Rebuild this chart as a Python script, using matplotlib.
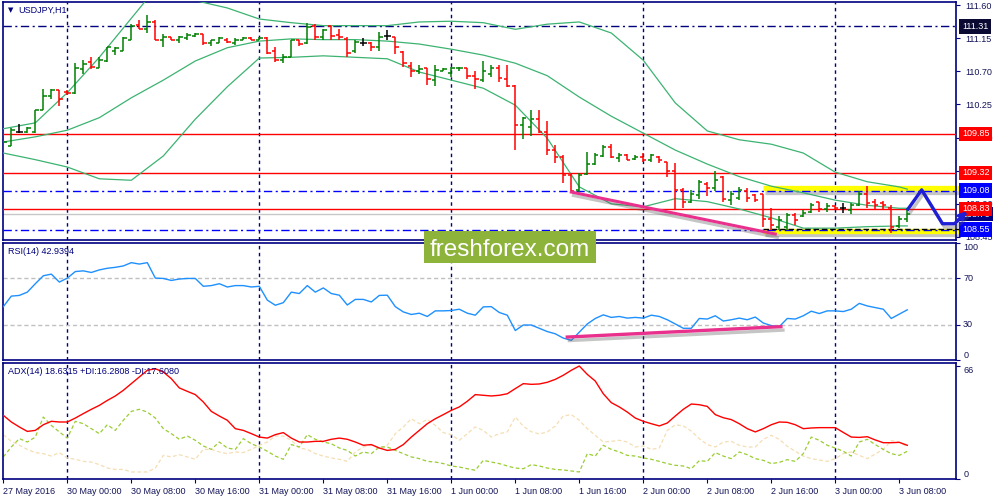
import matplotlib
matplotlib.use("Agg")
import matplotlib.pyplot as plt
import matplotlib.patheffects as pe
from matplotlib.patches import Rectangle
from matplotlib.transforms import blended_transform_factory
from matplotlib import font_manager

# ---------------------------------------------------------------------------
# USDJPY H1 bars, 27 May 2016 16:00 .. 3 Jun 2016 09:00 (one entry per hour)
# ---------------------------------------------------------------------------
opens = [109.68, 109.69, 109.87, 109.87, 109.87, 110.17, 110.36, 110.44, 110.42, 110.40,
         110.73, 110.82, 110.75, 110.84, 110.98, 110.98, 111.13, 111.33, 111.27, 111.37,
         111.13, 111.16, 111.13, 111.15, 111.18, 111.20, 111.08, 111.09, 111.13, 111.09,
         111.13, 111.15, 111.13, 111.15, 110.97, 110.85, 110.90, 111.12, 111.08, 111.32,
         111.17, 111.31, 111.19, 111.14, 110.97, 111.09, 111.09, 111.03, 111.18, 111.16,
         110.96, 110.77, 110.70, 110.74, 110.58, 110.71, 110.68, 110.74, 110.74, 110.64,
         110.58, 110.66, 110.74, 110.60, 110.50, 109.97, 109.95, 110.05, 109.88, 109.63,
         109.54, 109.29, 109.09, 109.31, 109.44, 109.55, 109.67, 109.52, 109.56, 109.51,
         109.54, 109.50, 109.54, 109.47, 109.34, 109.09, 108.93, 109.02, 109.17, 109.11,
         109.26, 108.95, 108.98, 109.08, 109.02, 109.03, 108.70, 108.58, 108.59, 108.75,
         108.73, 108.79, 108.92, 108.83, 108.87, 108.85, 108.82, 108.89, 109.03, 108.93,
         108.91, 108.85, 108.60, 108.69]
highs = [109.77, 109.93, 109.98, 109.95, 110.18, 110.46, 110.46, 110.45, 110.44, 110.81,
         110.86, 110.89, 110.89, 111.03, 111.03, 111.16, 111.34, 111.39, 111.46, 111.39,
         111.21, 111.17, 111.18, 111.22, 111.22, 111.21, 111.13, 111.16, 111.15, 111.15,
         111.16, 111.16, 111.16, 111.16, 111.03, 110.94, 111.13, 111.13, 111.35, 111.34,
         111.27, 111.32, 111.27, 111.16, 111.13, 111.15, 111.10, 111.23, 111.26, 111.17,
         110.97, 110.82, 110.79, 110.74, 110.79, 110.75, 110.76, 110.76, 110.75, 110.71,
         110.84, 110.78, 110.79, 110.79, 110.51, 110.08, 110.17, 110.17, 110.02, 109.70,
         109.56, 109.32, 109.32, 109.61, 109.59, 109.70, 109.71, 109.59, 109.58, 109.57,
         109.59, 109.58, 109.55, 109.47, 109.45, 109.12, 109.09, 109.23, 109.19, 109.34,
         109.28, 109.07, 109.13, 109.11, 109.03, 109.04, 108.85, 108.73, 108.78, 108.77,
         108.82, 108.91, 108.93, 108.91, 108.87, 108.91, 108.91, 109.07, 109.14, 108.96,
         108.94, 108.89, 108.73, 108.84]
lows = [109.61, 109.68, 109.86, 109.86, 109.86, 110.17, 110.32, 110.23, 110.38, 110.39,
        110.66, 110.73, 110.74, 110.83, 110.92, 110.97, 111.13, 111.27, 111.22, 111.13,
        111.03, 111.12, 111.08, 111.13, 111.17, 111.06, 111.04, 111.08, 111.09, 111.06,
        111.12, 111.12, 111.13, 110.94, 110.82, 110.81, 110.89, 111.04, 111.07, 111.13,
        111.13, 111.12, 111.13, 110.89, 110.95, 111.04, 110.97, 110.98, 111.13, 110.94,
        110.76, 110.62, 110.66, 110.51, 110.50, 110.70, 110.62, 110.70, 110.60, 110.46,
        110.55, 110.62, 110.55, 110.49, 109.63, 109.78, 109.82, 109.86, 109.56, 109.45,
        109.18, 109.05, 109.05, 109.29, 109.43, 109.54, 109.52, 109.47, 109.49, 109.50,
        109.47, 109.47, 109.46, 109.26, 108.83, 108.84, 108.91, 108.96, 109.01, 109.08,
        108.93, 108.89, 108.95, 108.93, 108.93, 108.59, 108.55, 108.55, 108.55, 108.61,
        108.72, 108.78, 108.79, 108.79, 108.83, 108.77, 108.76, 108.87, 108.85, 108.81,
        108.81, 108.50, 108.57, 108.66]
closes = [109.74, 109.90, 109.87, 109.93, 110.17, 110.36, 110.45, 110.32, 110.40, 110.74,
          110.80, 110.76, 110.86, 111.03, 111.02, 111.15, 111.32, 111.28, 111.37, 111.13,
          111.17, 111.13, 111.16, 111.19, 111.20, 111.09, 111.12, 111.15, 111.10, 111.13,
          111.15, 111.13, 111.15, 110.95, 110.85, 110.89, 111.13, 111.07, 111.30, 111.16,
          111.26, 111.18, 111.16, 110.95, 111.10, 111.09, 111.03, 111.17, 111.18, 111.03,
          110.81, 110.70, 110.73, 110.60, 110.72, 110.73, 110.74, 110.75, 110.64, 110.59,
          110.71, 110.74, 110.61, 110.50, 109.97, 110.06, 110.05, 109.88, 109.63, 109.54,
          109.29, 109.07, 109.29, 109.44, 109.56, 109.67, 109.54, 109.56, 109.50, 109.54,
          109.50, 109.56, 109.49, 109.34, 109.09, 108.92, 109.04, 109.20, 109.11, 109.22,
          108.96, 109.03, 109.09, 108.98, 108.95, 108.70, 108.61, 108.68, 108.75, 108.68,
          108.78, 108.89, 108.83, 108.87, 108.85, 108.85, 108.89, 109.03, 108.91, 108.89,
          108.89, 108.58, 108.69, 108.76]

band_x = list(range(0, 113, 4)) + [113]
bb_upper = [109.92, 110.00, 110.41, 110.89, 111.42, 111.95, 111.66, 111.56, 111.41, 111.36,
            111.32, 111.32, 111.32, 111.37, 111.38, 111.36, 111.27, 111.34, 111.37, 111.22,
            110.85, 110.27, 109.89, 109.77, 109.71, 109.59, 109.33, 109.20, 109.13, 109.10]
bb_middle = [109.74, 109.81, 109.90, 110.07, 110.34, 110.58, 110.84, 111.02, 111.11, 111.14,
             111.13, 111.13, 111.11, 111.07, 111.00, 110.92, 110.81, 110.64, 110.35, 110.09,
             109.86, 109.63, 109.44, 109.27, 109.14, 109.05, 108.95, 108.88, 108.84, 108.84]
bb_lower = [109.59, 109.50, 109.40, 109.24, 109.22, 109.55, 110.05, 110.49, 110.88, 110.89,
            110.91, 110.89, 110.87, 110.69, 110.58, 110.47, 110.24, 109.79, 109.13, 108.90,
            108.86, 108.97, 108.93, 108.83, 108.71, 108.57, 108.57, 108.59, 108.60, 108.60]

rsi = [45.6, 54.6, 55.2, 58.0, 65.2, 72.0, 73.4, 66.6, 70.0, 75.6,
       76.2, 74.8, 77.0, 78.4, 79.2, 80.4, 83.2, 82.0, 83.2, 70.0,
       69.7, 68.0, 69.2, 69.7, 69.7, 63.0, 63.6, 65.2, 62.4, 63.6,
       63.6, 62.4, 63.0, 51.2, 46.8, 49.0, 58.0, 56.8, 63.6, 58.0,
       61.6, 56.8, 55.4, 47.0, 51.8, 51.8, 49.6, 55.2, 55.4, 45.6,
       41.1, 38.9, 40.0, 37.2, 42.0, 42.0, 42.3, 43.4, 40.0, 38.3,
       45.4, 45.6, 40.6, 38.3, 25.2, 29.9, 29.9, 27.1, 24.3, 22.4,
       18.7, 16.8, 23.8, 30.8, 35.5, 38.6, 36.4, 37.2, 35.8, 36.4,
       35.8, 38.3, 37.2, 34.4, 30.8, 27.1, 27.1, 35.5, 35.0, 37.8,
       33.3, 34.4, 35.8, 34.4, 36.7, 31.6, 29.4, 28.5, 35.5, 35.0,
       37.8, 41.7, 39.7, 42.0, 42.0, 41.4, 43.4, 48.4, 46.2, 44.8,
       43.4, 35.5, 39.2, 42.9]

adx = [37.2, 33.3, 30.4, 27.8, 28.4, 31.7, 33.7, 33.3, 33.3, 35.6,
       38.2, 40.7, 43.0, 45.9, 48.5, 51.8, 55.7, 59.6, 63.5, 64.4,
       62.5, 58.6, 53.2, 51.2, 49.3, 45.0, 39.5, 36.8, 34.3, 29.4,
       28.4, 26.5, 24.5, 23.9, 25.9, 27.1, 23.9, 21.6, 21.6, 22.0,
       22.0, 23.2, 23.9, 23.2, 21.6, 19.7, 20.1, 18.1, 16.7, 17.3,
       20.1, 24.5, 28.4, 32.3, 35.2, 37.6, 40.1, 42.1, 45.4, 49.3,
       48.9, 48.5, 48.9, 49.8, 52.8, 55.7, 55.3, 55.5, 56.5, 58.2,
       60.6, 63.5, 66.0, 61.1, 57.2, 49.8, 44.6, 42.1, 39.1, 35.6,
       33.7, 32.3, 31.0, 32.7, 36.8, 40.7, 43.8, 43.4, 42.4, 37.6,
       35.8, 34.7, 32.3, 29.4, 27.5, 29.4, 31.7, 33.3, 33.1, 31.7,
       29.4, 29.8, 30.0, 30.0, 30.0, 27.2, 24.5, 24.3, 24.7, 22.8,
       21.2, 21.2, 21.4, 19.7]
plus_di = [12.9, 18.7, 23.6, 21.6, 24.5, 36.2, 31.3, 27.5, 23.9, 33.7,
           32.3, 29.4, 26.5, 31.7, 28.4, 34.3, 39.5, 40.7, 39.1, 35.6,
           29.4, 26.5, 23.2, 25.1, 22.6, 19.3, 17.3, 21.6, 18.1, 17.3,
           23.6, 20.6, 18.7, 16.2, 13.4, 11.5, 20.1, 18.7, 25.9, 23.2,
           21.6, 20.6, 18.1, 16.7, 13.4, 15.8, 14.8, 18.7, 18.7, 16.7,
           14.8, 12.9, 11.9, 10.3, 9.9, 9.0, 7.6, 7.0, 6.0, 5.1,
           10.9, 9.9, 9.0, 7.6, 6.4, 6.0, 8.4, 7.6, 6.4, 5.6,
           5.3, 4.7, 4.1, 14.8, 13.4, 19.7, 17.3, 15.8, 13.8, 13.4,
           12.3, 11.5, 10.3, 9.0, 8.0, 7.6, 6.0, 10.7, 10.3, 15.4,
           13.4, 11.9, 15.8, 14.2, 11.9, 10.9, 9.0, 9.7, 11.3, 10.3,
           14.8, 24.5, 22.6, 19.7, 18.1, 16.2, 13.4, 21.6, 23.2, 20.1,
           17.3, 14.8, 13.8, 16.2]
minus_di = [25.9, 22.0, 19.7, 17.3, 15.4, 14.8, 13.4, 15.4, 12.3, 11.5,
            10.3, 9.9, 8.4, 6.4, 5.6, 5.6, 4.1, 4.1, 4.1, 6.4,
            13.8, 12.9, 14.2, 12.9, 11.5, 17.3, 17.3, 15.8, 14.8, 15.8,
            15.4, 17.3, 19.7, 21.6, 25.1, 25.1, 22.6, 18.1, 17.3, 14.8,
            13.4, 12.3, 11.5, 10.3, 15.8, 18.7, 19.7, 18.1, 19.7, 26.5,
            30.4, 35.2, 32.3, 34.8, 31.3, 27.1, 25.9, 22.6, 26.5, 30.4,
            28.4, 24.5, 26.5, 27.5, 36.2, 30.8, 27.6, 26.3, 27.5, 31.0,
            36.8, 37.6, 34.3, 29.4, 25.5, 21.6, 22.0, 22.6, 21.6, 18.7,
            19.3, 17.3, 18.1, 28.4, 31.7, 31.0, 28.0, 23.6, 20.1, 18.7,
            21.6, 22.0, 19.7, 18.7, 18.7, 23.2, 25.5, 23.2, 19.1, 16.2,
            13.4, 11.9, 11.1, 10.3, 11.9, 14.8, 15.8, 13.8, 11.9, 14.6,
            17.3, 22.4, 21.6, 18.7]

time_labels = ["27 May 2016", "30 May 00:00", "30 May 08:00", "30 May 16:00",
               "31 May 00:00", "31 May 08:00", "31 May 16:00", "1 Jun 00:00",
               "1 Jun 08:00", "1 Jun 16:00", "2 Jun 00:00", "2 Jun 08:00",
               "2 Jun 16:00", "3 Jun 00:00", "3 Jun 08:00"]
day_starts = [8, 32, 56, 80, 104]
price_ticks = [108.45, 108.90, 109.35, 109.80, 110.25, 110.70, 111.15, 111.60]
# 109.35 sits fully under the 109.32 marker in the chart, so its text is left empty
price_tick_labels = ["108.45", "108.90", "", "109.80", "110.25", "110.70", "111.15", "111.60"]

# drawn objects (levels, trendlines, forecast path)
red_levels = [109.85, 109.32, 108.83]
blue_levels = [109.08, 108.55]
black_level = 111.31
last_price = 108.76
price_trend = ([71.0, 96.5], [109.06, 108.49])
rsi_trend = ([70.5, 97.2], [19.6, 28.5])
forecast_x = [113.1, 114.8, 117.4, 118.9, 120.2]
forecast_y = [108.83, 109.09, 108.63, 108.63, 108.76]
zone_start = 95.0

plt.rcParams["font.family"] = ["Liberation Sans", "DejaVu Sans"]

NAVY = "#00007F"
TXT = "#14145A"
PINK = "#E8308C"
BB = "#3CB371"
W, H = 1000, 500
XMIN, XMAX = -0.04, 119.09
FS = 6.5


def pick_family(names):
    for n in names:
        try:
            font_manager.findfont(n, fallback_to_default=False)
            return n
        except ValueError:
            pass
    return "DejaVu Sans"


fig = plt.figure(figsize=(W / 100, H / 100), dpi=100)
fig.patch.set_facecolor("white")


def add_panel(top, bottom):
    a = fig.add_axes([3 / W, 1 - bottom / H, 953 / W, (bottom - top) / H])
    a.set_xlim(XMIN, XMAX)
    for s in a.spines.values():
        s.set_color(NAVY)
        s.set_linewidth(1.2)
    a.yaxis.tick_right()
    a.tick_params(axis="y", direction="out", length=3, width=0.8, color=NAVY,
                  labelsize=FS, labelcolor=TXT, pad=4)
    a.tick_params(axis="x", bottom=False, labelbottom=False)
    for d in day_starts:
        a.axvline(d, color=NAVY, lw=1, ls=(0, (2.5, 2.5)), zorder=1)
    return a


shadow = [pe.SimpleLineShadow(offset=(1.5, -2.5), shadow_color="0.35", alpha=0.35), pe.Normal()]

# ---------------------------------------------------------------- price panel
ax = add_panel(2, 240)
ax.set_ylim(108.409, 111.641)
ax.set_yticks(price_ticks)
ax.set_yticklabels(price_tick_labels)

ax.axhline(black_level, color=NAVY, lw=1, ls=(0, (6, 2.5, 1.5, 2.5)), zorder=3)
for lvl in red_levels:
    ax.axhline(lvl, color="#FF0000", lw=1, zorder=3)
ax.axhline(last_price, color="#C8C8C8", lw=1, zorder=2)

# yellow zone edges
for lvl in (109.11, 108.535):
    ax.plot([zone_start, 119.6], [lvl, lvl], color="#FFFF00", lw=3.8,
            solid_capstyle="butt", clip_on=False, zorder=2, path_effects=shadow)
for lvl in blue_levels:
    ax.axhline(lvl, color="#0000FF", lw=1, ls=(0, (6, 2.5, 1.5, 2.5)), zorder=3)
ax.plot([zone_start, 119.6], [108.565, 108.565], color="black", lw=1,
        ls=(0, (4, 2)), clip_on=False, zorder=3.5)

ax.plot(band_x, bb_upper, color=BB, lw=0.9, zorder=3)
ax.plot(band_x, bb_middle, color=BB, lw=0.9, zorder=3)
ax.plot(band_x, bb_lower, color=BB, lw=0.9, zorder=3)

idx = list(range(len(opens)))
bar_colors = ["#008000" if c > o else "#FF0000" if c < o else "black"
              for o, c in zip(opens, closes)]
ax.vlines(idx, lows, highs, colors=bar_colors, lw=1.1, zorder=4)
ax.hlines(opens, [i - 0.4 for i in idx], idx, colors=bar_colors, lw=1.1, zorder=4)
ax.hlines(closes, idx, [i + 0.4 for i in idx], colors=bar_colors, lw=1.1, zorder=4)

ax.plot(*price_trend, color=PINK, lw=2.2, zorder=6, path_effects=shadow)

ax.text(0.005, 0.966, "\u25bc", transform=ax.transAxes, color=NAVY, fontsize=5,
        va="center", ha="left", family=["DejaVu Sans"])
ax.text(0.016, 0.966, "USDJPY,H1", transform=ax.transAxes, color=NAVY, fontsize=FS,
        va="center", ha="left")

# price boxes on the right scale
btr = blended_transform_factory(ax.transAxes, ax.transData)


def price_box(y, bg, z):
    ax.text(1.0065, y, f"{y:.2f}", transform=btr, ha="left", va="center", fontsize=FS,
            color="white", zorder=z, clip_on=False,
            bbox=dict(boxstyle="square,pad=0.3", fc=bg, ec="none"))


price_box(black_level, "#0A0A32", 10)
price_box(last_price, NAVY, 9)
for lvl in red_levels:
    price_box(lvl, "#FF0000", 10)
for lvl in blue_levels:
    price_box(lvl, "#0000FF", 10)

ax.plot(forecast_x, forecast_y, color="#1F1FD6", lw=2.4, clip_on=False, zorder=12,
        solid_joinstyle="round", path_effects=shadow)
ax.annotate("", xy=(forecast_x[-1] + 0.5, forecast_y[-1] + 0.07),
            xytext=(forecast_x[-2], forecast_y[-2]),
            arrowprops=dict(arrowstyle="->", color="#1F1FD6", lw=2.2, mutation_scale=11),
            annotation_clip=False, zorder=12)

# ---------------------------------------------------------------- RSI panel
ax_rsi = add_panel(243, 360)
ax_rsi.set_ylim(0, 100)
ax_rsi.set_yticks([0, 30, 70, 100])
ax_rsi.set_yticklabels([])
for lvl in (30, 70):
    ax_rsi.axhline(lvl, color="#C0C0C0", lw=1, ls=(0, (3, 2)), zorder=1)
ax_rsi.plot(idx, rsi, color="#1E90FF", lw=1, zorder=3)
ax_rsi.plot(*rsi_trend, color=PINK, lw=2.4, zorder=5, path_effects=shadow)
rtr = blended_transform_factory(ax_rsi.transAxes, ax_rsi.transData)
for v, lab, va in [(100, "100", "top"), (70, "70", "center"), (30, "30", "center"), (0, "0", "bottom")]:
    ax_rsi.text(1.0075, v, lab, transform=rtr, ha="left", va=va, fontsize=FS,
                color=TXT, clip_on=False)
ax_rsi.text(0.005, 0.93, "RSI(14) 42.9394", transform=ax_rsi.transAxes, color=NAVY,
            fontsize=FS, va="center", ha="left")

# ---------------------------------------------------------------- ADX panel
ax_adx = add_panel(363, 479)
ax_adx.set_ylim(0, 67.76)
ax_adx.set_yticks([0, 66])
ax_adx.set_yticklabels([])
ax_adx.plot(idx, minus_di, color="#F5DEB3", lw=0.9, ls=(0, (3, 2)), zorder=2)
ax_adx.plot(idx, plus_di, color="#9ACD32", lw=0.9, ls=(0, (3, 2)), zorder=2)
ax_adx.plot(idx, adx, color="#FF0000", lw=1, zorder=3)
atr = blended_transform_factory(ax_adx.transAxes, ax_adx.transData)
ax_adx.text(1.0075, 66, "66", transform=atr, ha="left", va="top", fontsize=FS,
            color=TXT, clip_on=False)
ax_adx.text(1.0075, 0, "0", transform=atr, ha="left", va="bottom", fontsize=FS,
            color=TXT, clip_on=False)
ax_adx.text(0.005, 0.93, "ADX(14) 18.6315 +DI:16.2808 -DI:17.6080",
            transform=ax_adx.transAxes, color=NAVY, fontsize=FS, va="center", ha="left")

ax_adx.set_xticks(list(range(0, 113, 8)))
ax_adx.set_xticklabels(time_labels, ha="left")
ax_adx.tick_params(axis="x", bottom=True, labelbottom=True, direction="out", length=3,
                   width=0.8, color=NAVY, labelsize=FS, labelcolor=TXT, pad=3)

# ---------------------------------------------------------------- watermark
fig.add_artist(Rectangle((424 / W, 1 - 263 / H), 172 / W, 32 / H, transform=fig.transFigure,
                         facecolor="#8DB33A", edgecolor="none", zorder=20))
wm_family = pick_family(["Liberation Sans Narrow", "Liberation Sans"])
wm_size = 21 if wm_family == "Liberation Sans Narrow" else 17.5
fig.text(510 / W, 1 - 256 / H, "freshforex.com", color="white", fontsize=wm_size,
         family=wm_family, ha="center", va="baseline", zorder=21)

fig.savefig("out.png", dpi=100, facecolor="white")
